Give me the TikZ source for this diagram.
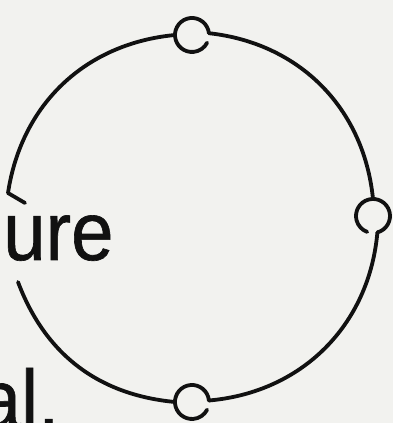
\documentclass[tikz,border=0pt]{standalone}
\usepackage{fontspec}
\setmainfont{Liberation Sans}
\newfontfamily\txtfont{Liberation Sans}[FakeBold=0.8]
\definecolor{bg}{HTML}{F2F2EF}
\definecolor{ink}{HTML}{111111}
\begin{document}
\begin{tikzpicture}[x=1pt,y=1pt,
  ring/.style={draw=ink, line width=3.8pt, line cap=round, line join=round},
  bigtext/.style={font=\txtfont\fontsize{83}{90}\selectfont, text=ink, inner sep=0pt, anchor=base west, xscale=0.92}]
\useasboundingbox (0,0) rectangle (393,423);
\clip (0,0) rectangle (393,423);
\fill[bg] (0,0) rectangle (393,423);
% text
\node[bigtext] (ure) at (3,163) {ure};
\node[bigtext] (al) at (-21.5,-5) {al.};
% key points
\coordinate (H1) at (8,230);
\coordinate (H2) at (25,220);
\coordinate (L2) at (18,141);
\coordinate (Tw) at (175,388);
\coordinate (Te) at (208.9,389.8);
\coordinate (Rn) at (373,224);
\coordinate (Rs) at (377.4,190.6);
\coordinate (Be) at (208.9,22.5);
\coordinate (Bw) at (175,21);
% big ring
\draw[ring] (H2) -- (H1) to[bend left=38] (Tw);
\draw[ring] (Te) to[bend left=39] (Rn);
\draw[ring] (Rs) to[bend left=40] (Be);
\draw[ring] (Bw) to[bend left=32] (L2);
% beads
\draw[ring] (Te) arc[start angle=6, end angle=333, radius=17];
\draw[ring] (Rs) arc[start angle=-75, end angle=250, radius=17];
\draw[ring] (Be) arc[start angle=5, end angle=333, radius=17];
\end{tikzpicture}
\end{document}
